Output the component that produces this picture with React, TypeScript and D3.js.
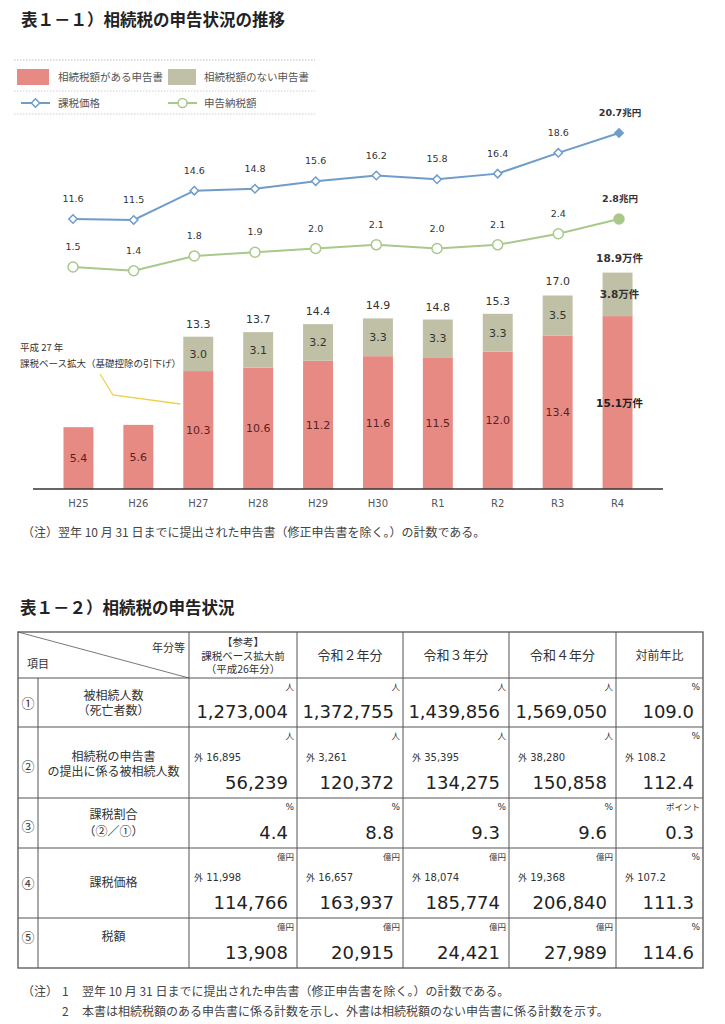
import React from "react";
import * as d3 from "d3";

const years = ["H25", "H26", "H27", "H28", "H29", "H30", "R1", "R2", "R3", "R4"];
const withTax = [5.4, 5.6, 10.3, 10.6, 11.2, 11.6, 11.5, 12.0, 13.4, 15.1];
const noTax = [0, 0, 3.0, 3.1, 3.2, 3.3, 3.3, 3.3, 3.5, 3.8];
const totals = [5.4, 5.6, 13.3, 13.7, 14.4, 14.9, 14.8, 15.3, 17.0, 18.9];
const taxablePrice = [11.6, 11.5, 14.6, 14.8, 15.6, 16.2, 15.8, 16.4, 18.6, 20.7];
const taxPaid = [1.5, 1.4, 1.8, 1.9, 2.0, 2.1, 2.0, 2.1, 2.4, 2.8];

const colHeaders = [
  ["【参考】", "課税ベース拡大前", "（平成26年分）"],
  ["令和２年分"],
  ["令和３年分"],
  ["令和４年分"],
  ["対前年比"],
];
const rowNums = ["①", "②", "③", "④", "⑤"];
const rowLabels = [
  ["被相続人数", "（死亡者数）"],
  ["相続税の申告書", "の提出に係る被相続人数"],
  ["課税割合", "（②／①）"],
  ["課税価格"],
  ["税額"],
];
const rowUnits = [
  ["人", "人", "人", "人", "%"],
  ["人", "人", "人", "人", "%"],
  ["%", "%", "%", "%", "ポイント"],
  ["億円", "億円", "億円", "億円", "%"],
  ["億円", "億円", "億円", "億円", "%"],
];
const rowOutside = [
  null,
  ["外 16,895", "外 3,261", "外 35,395", "外 38,280", "外 108.2"],
  null,
  ["外 11,998", "外 16,657", "外 18,074", "外 19,368", "外 107.2"],
  null,
];
const rowValues = [
  ["1,273,004", "1,372,755", "1,439,856", "1,569,050", "109.0"],
  ["56,239", "120,372", "134,275", "150,858", "112.4"],
  ["4.4", "8.8", "9.3", "9.6", "0.3"],
  ["114,766", "163,937", "185,774", "206,840", "111.3"],
  ["13,908", "20,915", "24,421", "27,989", "114.6"],
];

const JP = "'Noto Sans CJK JP', 'Noto Sans', sans-serif";
const NUM = "'DejaVu Sans', Verdana, sans-serif";
const RED = "#e88a84";
const GRAY = "#bfc0a6";
const BLUE = "#6e9dca";
const GREEN = "#a8c98a";

export default function App() {
  const W = 725, H = 1024;

  const xBar = d3.scaleBand().domain(years).range([48.5, 647.5]).paddingInner(0.5).paddingOuter(0.25);
  const xLine = d3.scalePoint().domain(years).range([73, 619]);
  const yBar = d3.scaleLinear().domain([0, 20]).range([489, 260]);
  const yBlue = d3.scaleLinear().domain([0, 20.7]).range([328.6, 133]);
  const yGreen = d3.scaleLinear().domain([0, 2.8]).range([322.4, 219]);

  const rows = years.map((y, i) => ({ year: y, withTax: withTax[i], noTax: noTax[i] }));
  const stack = d3.stack<any>().keys(["withTax", "noTax"])(rows);

  const blueLine = d3.line<number>().x((_, i) => xLine(years[i])!).y((d) => yBlue(d));
  const greenLine = d3.line<number>().x((_, i) => xLine(years[i])!).y((d) => yGreen(d));

  const diamond = d3.symbol().type(d3.symbolDiamond2).size(45)();

  // table geometry
  const colX = [18, 189, 297, 403, 509, 616, 703];
  const numX = 38;
  const rowY = [632, 678, 727, 798, 848, 918, 968];
  const numYs = [703, 766, 826, 883, 937];
  const labelYs = [[696, 711], [757, 772], [815, 832], [883], [937]];

  const last = years.length - 1;
  const h27x = xBar("H27")!;

  return (
    <svg width={W} height={H} style={{ position: "absolute", left: 0, top: 0, background: "#fff" }}>
      <rect width={W} height={H} fill="#fff" />
      {/* Title */}
      <text x={21} y={26} fontFamily={JP} fontWeight={700} fontSize={16.5} fill="#222">
        表１－１）相続税の申告状況の推移
      </text>

      {/* Legend */}
      <g fontFamily={JP} fontSize={10.5} fill="#555">
        <line x1={14} x2={315} y1={60} y2={60} stroke="#bbb" strokeDasharray="1.5,1.5" />
        <line x1={14} x2={315} y1={91} y2={91} stroke="#ccc" strokeDasharray="1.5,1.5" />
        <line x1={14} x2={315} y1={114} y2={114} stroke="#ccc" strokeDasharray="1.5,1.5" />
        <rect x={17} y={69} width={32} height={16} fill={RED} />
        <text x={58} y={81}>相続税額がある申告書</text>
        <rect x={168} y={69} width={28} height={16} fill={GRAY} />
        <text x={204} y={81}>相続税額のない申告書</text>
        <line x1={21} x2={50} y1={103} y2={103} stroke={BLUE} strokeWidth={2} />
        <path d={diamond!} transform="translate(35.5,103)" fill="#fff" stroke={BLUE} strokeWidth={1.5} />
        <text x={58} y={107}>課税価格</text>
        <line x1={168} x2={197} y1={103} y2={103} stroke={GREEN} strokeWidth={2} />
        <circle cx={182.5} cy={103} r={4.5} fill="#fff" stroke={GREEN} strokeWidth={1.5} />
        <text x={204} y={107}>申告納税額</text>
      </g>

      {/* Bars */}
      {stack.map((layer, li) => (
        <g key={li} fill={li === 0 ? RED : GRAY}>
          {layer.map((d, i) =>
            d[1] - d[0] > 0 ? (
              <rect key={i} x={xBar(years[i])} width={xBar.bandwidth()} y={yBar(d[1])} height={yBar(d[0]) - yBar(d[1])} />
            ) : null
          )}
        </g>
      ))}
      {/* Bar labels */}
      <g fontFamily={NUM} textAnchor="middle">
        {years.map((y, i) => {
          const cx = xBar(y)! + xBar.bandwidth() / 2;
          const isLast = i === last;
          return (
            <g key={y}>
              <text
                x={cx + (isLast ? 2 : 0)}
                y={(yBar(0) + yBar(withTax[i])) / 2 + 4}
                fontSize={isLast ? 10.5 : 11}
                fontWeight={isLast ? 700 : 400}
                fill={isLast ? "#222" : "#5a2222"}
                fontFamily={isLast ? `${NUM}` : NUM}
              >
                {isLast ? withTax[i].toFixed(1) : withTax[i].toFixed(1)}
                {isLast ? <tspan fontFamily={JP}>万件</tspan> : null}
              </text>
              {noTax[i] > 0 && (
                <text
                  x={cx + (isLast ? 2 : 0)}
                  y={(yBar(withTax[i]) + yBar(totals[i])) / 2 + 4}
                  fontSize={isLast ? 10.5 : 11}
                  fontWeight={isLast ? 700 : 400}
                  fill="#333"
                >
                  {noTax[i].toFixed(1)}
                  {isLast ? <tspan fontFamily={JP}>万件</tspan> : null}
                </text>
              )}
              {noTax[i] > 0 && (
                <text
                  x={cx + (isLast ? 2 : 0)}
                  y={yBar(totals[i]) - (isLast ? 11 : 9)}
                  fontSize={isLast ? 10.5 : 11}
                  fontWeight={isLast ? 700 : 400}
                  fill="#333"
                >
                  {totals[i].toFixed(1)}
                  {isLast ? <tspan fontFamily={JP}>万件</tspan> : null}
                </text>
              )}
            </g>
          );
        })}
      </g>

      {/* Axis */}
      <line x1={33} x2={663} y1={yBar(0)} y2={yBar(0)} stroke="#333" strokeWidth={1.5} />
      <g fontFamily={NUM} fontSize={10} fill="#555" textAnchor="middle">
        {years.map((y) => (
          <text key={y} x={xBar(y)! + xBar.bandwidth() / 2} y={507}>
            {y}
          </text>
        ))}
      </g>

      {/* Lines */}
      <path d={blueLine(taxablePrice)!} fill="none" stroke={BLUE} strokeWidth={2} />
      <path d={greenLine(taxPaid)!} fill="none" stroke={GREEN} strokeWidth={2} />
      {taxablePrice.map((v, i) => (
        <path
          key={"bd" + i}
          d={diamond!}
          transform={`translate(${xLine(years[i])},${yBlue(v)})`}
          fill={i === last ? BLUE : "#fff"}
          stroke={BLUE}
          strokeWidth={1.5}
        />
      ))}
      {taxPaid.map((v, i) => (
        <circle
          key={"gc" + i}
          cx={xLine(years[i])}
          cy={yGreen(v)}
          r={5}
          fill={i === last ? GREEN : "#fff"}
          stroke={GREEN}
          strokeWidth={1.5}
        />
      ))}
      <g fontFamily={NUM} fontSize={9.5} fill="#333" textAnchor="middle">
        {taxablePrice.map((v, i) => (
          <text key={"bl" + i} x={xLine(years[i])! + (i === last ? 1 : 0)} y={yBlue(v) - 17} fontWeight={i === last ? 700 : 400}>
            {v.toFixed(1)}
            {i === last ? <tspan fontFamily={JP}>兆円</tspan> : null}
          </text>
        ))}
        {taxPaid.map((v, i) => (
          <text key={"gl" + i} x={xLine(years[i])! + (i === last ? 1 : 0)} y={yGreen(v) - 17} fontWeight={i === last ? 700 : 400}>
            {v.toFixed(1)}
            {i === last ? <tspan fontFamily={JP}>兆円</tspan> : null}
          </text>
        ))}
      </g>

      {/* Annotation */}
      <g fontFamily={JP} fontSize={9.5} fill="#333">
        <text x={20} y={351}>平成 27 年</text>
        <text x={20} y={367}>課税ベース拡大（基礎控除の引下げ）</text>
      </g>
      <polyline points={`100,374 113,395 ${h27x - 3},404`} fill="none" stroke="#f0d048" strokeWidth={1.3} />

      {/* chart note */}
      <text x={22} y={537} fontFamily={JP} fontSize={12} fill="#444">
        （注）翌年 10 月 31 日までに提出された申告書（修正申告書を除く。）の計数である。
      </text>

      {/* Table title */}
      <text x={20} y={614} fontFamily={JP} fontWeight={700} fontSize={16.5} fill="#222">
        表１－２）相続税の申告状況
      </text>

      {/* Table */}
      <g stroke="#555" strokeWidth={1} fill="none">
        <rect x={colX[0]} y={rowY[0]} width={colX[6] - colX[0]} height={rowY[6] - rowY[0]} strokeWidth={1.3} />
        {rowY.slice(1, -1).map((y, i) => (
          <line key={"h" + i} x1={colX[0]} x2={colX[6]} y1={y} y2={y} />
        ))}
        {colX.slice(1, -1).map((x, i) => (
          <line key={"v" + i} x1={x} x2={x} y1={rowY[0]} y2={rowY[6]} />
        ))}
        <line x1={numX} x2={numX} y1={rowY[1]} y2={rowY[6]} />
        <line x1={colX[0]} y1={rowY[0]} x2={colX[1]} y2={rowY[1]} strokeWidth={0.8} />
      </g>
      <g fontFamily={JP} fill="#333">
        <text x={185} y={652} fontSize={11} textAnchor="end">年分等</text>
        <text x={27} y={668} fontSize={11}>項目</text>
        {colHeaders.map((lines, ci) => {
          const cx = (colX[ci + 1] + colX[ci + 2]) / 2;
          if (lines.length === 1)
            return (
              <text key={ci} x={cx} y={660} fontSize={ci === 4 ? 12 : 13} textAnchor="middle">
                {lines[0]}
              </text>
            );
          return lines.map((t, li) => (
            <text key={ci + "-" + li} x={cx} y={646 + li * 13.5} fontSize={10.5} textAnchor="middle">
              {t}
            </text>
          ));
        })}
        {rowNums.map((n, ri) => (
          <text key={"n" + ri} x={28} y={numYs[ri] + 5} fontSize={13} textAnchor="middle">
            {n}
          </text>
        ))}
        {rowLabels.map((lines, ri) =>
          lines.map((t, li) => (
            <text key={"l" + ri + li} x={(numX + colX[1]) / 2} y={labelYs[ri][li] + 4} fontSize={12} textAnchor="middle">
              {t}
            </text>
          ))
        )}
        {rowUnits.map((units, ri) =>
          units.map((u, ci) => (
            <text key={"u" + ri + ci} x={colX[ci + 2] - 3} y={rowY[ri + 1] + 12} fontSize={u === "%" ? 9 : 8.5} textAnchor="end" fontFamily={u === "%" ? NUM : JP}>
              {u}
            </text>
          ))
        )}
        {rowOutside.map((vals, ri) =>
          vals
            ? vals.map((v, ci) => (
                <text key={"o" + ri + ci} x={colX[ci + 1] + (ci === 0 ? 5 : 9)} y={rowY[ri + 2] - 37} fontSize={10} fontFamily={NUM}>
                  <tspan fontFamily={JP} fontSize={9}>外</tspan>
                  {" " + v.slice(2)}
                </text>
              ))
            : null
        )}
        {rowValues.map((vals, ri) =>
          vals.map((v, ci) => (
            <text key={"v" + ri + ci} x={colX[ci + 2] - 9} y={rowY[ri + 2] - 9} fontSize={18} fontFamily={NUM} textAnchor="end" fill="#222">
              {v}
            </text>
          ))
        )}
      </g>

      {/* Table notes */}
      <g fontFamily={JP} fontSize={12} fill="#444">
        <text x={22} y={996}>（注）</text>
        <text x={62} y={996}>1</text>
        <text x={82} y={996}>翌年 10 月 31 日までに提出された申告書（修正申告書を除く。）の計数である。</text>
        <text x={62} y={1016}>2</text>
        <text x={82} y={1016}>本書は相続税額のある申告書に係る計数を示し、外書は相続税額のない申告書に係る計数を示す。</text>
      </g>
    </svg>
  );
}
